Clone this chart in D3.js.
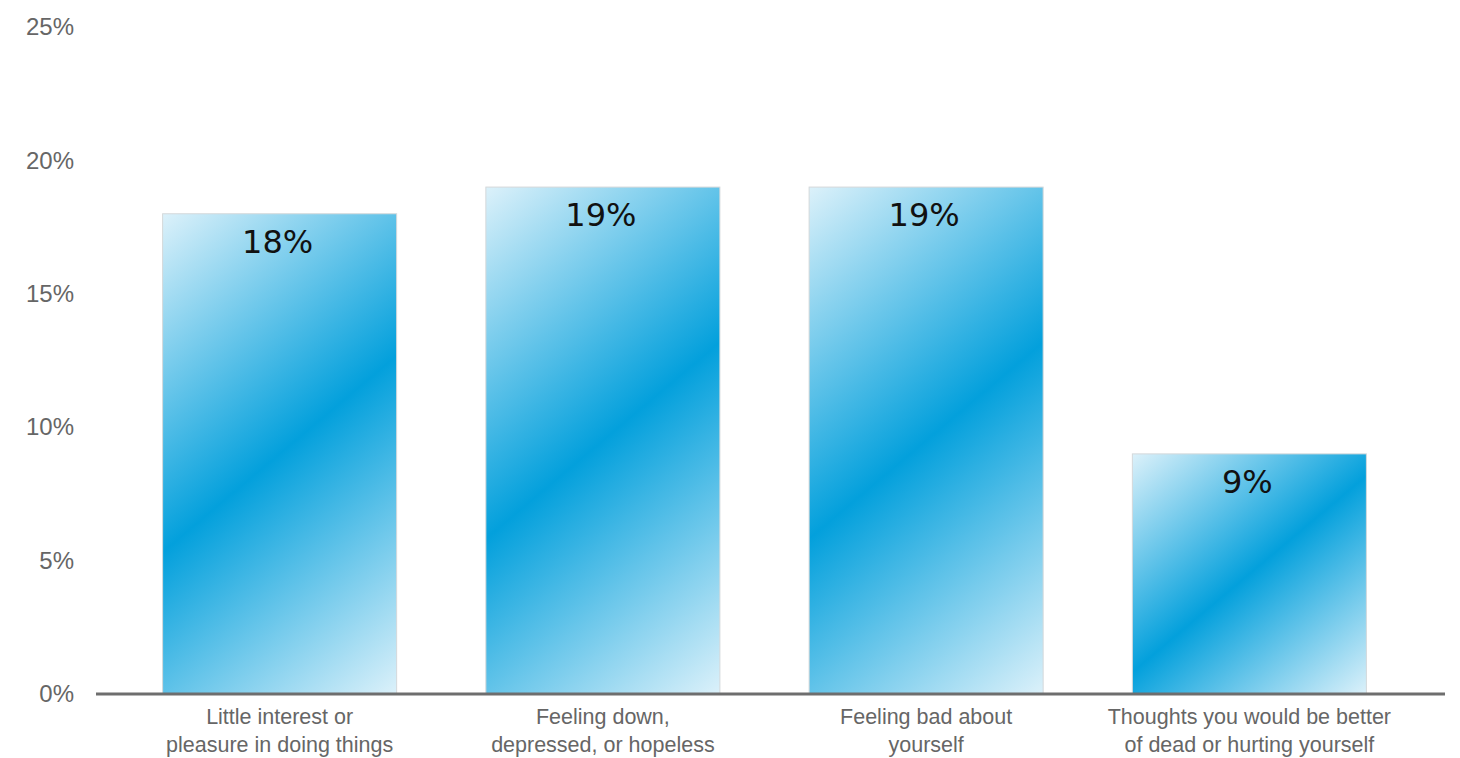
<!DOCTYPE html>
<html>
<head>
<meta charset="utf-8">
<script src="https://cdn.jsdelivr.net/npm/d3@7"></script>
<style>
  html, body { margin: 0; padding: 0; background: #ffffff; }
  svg { display: block; }
</style>
</head>
<body>
<svg id="chart" width="1460" height="758"></svg>
<script>
// Share of respondents reporting each symptom
const categories = [
  ["Little interest or", "pleasure in doing things"],
  ["Feeling down,", "depressed, or hopeless"],
  ["Feeling bad about", "yourself"],
  ["Thoughts you would be better", "of dead or hurting yourself"]
];
const values = [18, 19, 19, 9];
const yTicks = [0, 5, 10, 15, 20, 25];

const svg = d3.select("#chart");

const x = d3.scaleBand()
  .domain(d3.range(categories.length))
  .range([118, 1411])
  .paddingInner(0.276)
  .paddingOuter(0.138);

const y = d3.scaleLinear()
  .domain([0, 25])
  .range([694, 27]);

// Diagonal light-blue-white gradient, one per bar
const defs = svg.append("defs");
const ang = 40 * Math.PI / 180;
const dx = Math.sin(ang), dy = Math.cos(ang);
values.forEach((v, i) => {
  const x0 = x(i), y0 = y(v), w = x.bandwidth(), h = y(0) - y(v);
  const L = w * dx + h * dy;
  const g = defs.append("linearGradient")
    .attr("id", "barGrad" + i)
    .attr("gradientUnits", "userSpaceOnUse")
    .attr("x1", x0).attr("y1", y0)
    .attr("x2", x0 + dx * L).attr("y2", y0 + dy * L);
  g.append("stop").attr("offset", 0).attr("stop-color", "#dcf1fa");
  g.append("stop").attr("offset", 0.5).attr("stop-color", "#03a0dc");
  g.append("stop").attr("offset", 1).attr("stop-color", "#dcf1fa");
});

// Y axis labels
const yAxis = d3.axisLeft(y)
  .tickValues(yTicks)
  .tickSize(0)
  .tickPadding(0)
  .tickFormat(d => d + "%");
const yG = svg.append("g")
  .attr("transform", "translate(74,0)")
  .call(yAxis);
yG.select(".domain").remove();
yG.selectAll("text")
  .attr("fill", "#666666")
  .attr("font-family", "Liberation Sans, Arial, sans-serif")
  .attr("font-size", 24);

// Bars
svg.append("g").selectAll("rect")
  .data(values)
  .join("rect")
  .attr("x", (d, i) => x(i))
  .attr("y", d => y(d))
  .attr("width", x.bandwidth())
  .attr("height", d => y(0) - y(d))
  .attr("fill", (d, i) => `url(#barGrad${i})`)
  .attr("stroke", "#d4d8da")
  .attr("stroke-width", 1);

// Value labels
svg.append("g").selectAll("text")
  .data(values)
  .join("text")
  .attr("x", (d, i) => x(i) + x.bandwidth() / 2 - 2)
  .attr("y", d => y(d) + 39)
  .attr("text-anchor", "middle")
  .attr("fill", "#111111")
  .attr("font-family", "DejaVu Sans, sans-serif")
  .attr("font-size", 32)
  .text(d => d + "%");

// Baseline
svg.append("line")
  .attr("x1", 96).attr("x2", 1445)
  .attr("y1", y(0)).attr("y2", y(0))
  .attr("stroke", "#6e6e6e")
  .attr("stroke-width", 3);

// Category labels (two lines each)
const xAxis = d3.axisBottom(x).tickSize(0).tickFormat("");
const xG = svg.append("g")
  .attr("transform", `translate(0,${y(0)})`)
  .call(xAxis);
xG.select(".domain").remove();
xG.selectAll(".tick text").each(function(i) {
  const t = d3.select(this)
    .attr("y", 0)
    .attr("dy", null)
    .attr("fill", "#666666")
    .attr("font-family", "Liberation Sans, Arial, sans-serif")
    .attr("font-size", 21.5);
  categories[i].forEach((line, k) => {
    t.append("tspan")
      .attr("x", 0)
      .attr("y", 30 + k * 28)
      .text(line);
  });
});
</script>
</body>
</html>
